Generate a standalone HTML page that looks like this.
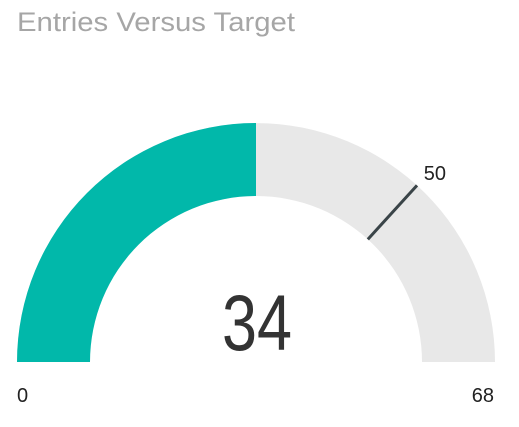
<!DOCTYPE html>
<html><head><meta charset="utf-8"><style>
body{margin:0;background:#fff;width:519px;height:422px;overflow:hidden;font-family:"Liberation Sans",sans-serif}
</style></head><body>
<svg width="519" height="422">
<text x="17" y="31" font-size="27" fill="#a6a6a6" textLength="278" lengthAdjust="spacingAndGlyphs">Entries Versus Target</text>
<g id="g"></g>
</svg>
<script>
const minValue=[0];
const maxValue=[68];
const currentValue=[34];
const targetValue=[50];
const cx=256,cy=362,R=239,r=166;
const ns="http://www.w3.org/2000/svg";
const g=document.getElementById('g');
function ang(v){return Math.PI*(1-(v-minValue[0])/(maxValue[0]-minValue[0]));}
function pt(rad,a){return [cx+rad*Math.cos(a),cy-rad*Math.sin(a)];}
function arc(v0,v1){const a0=ang(v0),a1=ang(v1);const p1=pt(R,a0),p2=pt(R,a1),p3=pt(r,a1),p4=pt(r,a0);
return `M${p1} A${R},${R} 0 0 1 ${p2} L${p3} A${r},${r} 0 0 0 ${p4} Z`;}
function mk(t,attrs){const e=document.createElementNS(ns,t);for(const k in attrs)e.setAttribute(k,attrs[k]);g.appendChild(e);return e;}
const bg=mk('path',{d:arc(minValue[0],maxValue[0]),fill:'#e8e8e8'});


const fg=mk('path',{d:arc(minValue[0],currentValue[0]),fill:'#01b8aa'});


const ta=ang(targetValue[0]);const q1=pt(r,ta),q2=pt(R,ta);
const tl=mk('line',{x1:q1[0],y1:q1[1],x2:q2[0],y2:q2[1],stroke:'#3a4448','stroke-width':3});


const lp=pt(R+10,ta);
const tt=mk('text',{x:lp[0],y:lp[1]+2,'font-size':20,fill:'#222'});tt.textContent=targetValue[0];


const mn=mk('text',{x:17,y:402,'font-size':20,fill:'#222'});mn.textContent=minValue[0];


const mx=mk('text',{x:494,y:402,'font-size':20,fill:'#222','text-anchor':'end'});mx.textContent=maxValue[0];


const cv=mk('text',{x:222,y:350,'font-size':79,fill:'#333',textLength:70,lengthAdjust:'spacingAndGlyphs','font-weight':'300'});cv.textContent=currentValue[0];


</script>
</body></html>
